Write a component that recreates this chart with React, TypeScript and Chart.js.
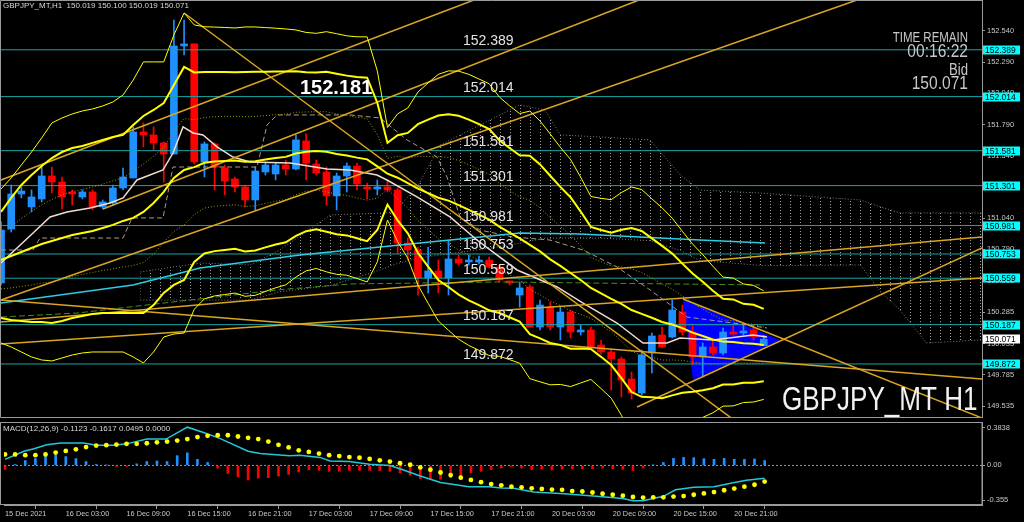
import React, { useEffect, useRef } from "react";
import { Chart, registerables } from "chart.js";

Chart.register(...registerables);

// ---------------- data ----------------
const SYMBOL_HEADER = "GBPJPY_MT,H1  150.019 150.100 150.019 150.071";
const MACD_HEADER = "MACD(12,26,9) -0.1123 -0.1617 0.0495 0.0000";
const BIG_LABEL = "GBPJPY_MT H1";
const HIGH_NOTE = "152.181";
const TIME_REMAIN = "00:16:22";
const BID = "150.071";

const TIME_LABELS = ["15 Dec 2021", "16 Dec 03:00", "16 Dec 09:00", "16 Dec 15:00", "16 Dec 21:00", "17 Dec 03:00", "17 Dec 09:00", "17 Dec 15:00", "17 Dec 21:00", "20 Dec 03:00", "20 Dec 09:00", "20 Dec 15:00", "20 Dec 21:00"];
const TIME_LABEL_BARS = [0, 6, 12, 18, 24, 30, 36, 42, 48, 54, 60, 66, 72];

const PRICE_TICKS = [149.535, 149.785, 150.035, 150.285, 150.535, 150.79, 151.04, 151.29, 151.54, 151.79, 152.04, 152.29, 152.54];
const MACD_TICKS = [0.3838, 0, -0.355];
const MACD_TICK_LABELS = ["0.3838", "0.00", "-0.355"];

const LEVELS = [152.389, 152.014, 151.581, 151.301, 150.981, 150.753, 150.559, 150.187, 149.872];
const LAST_PRICE = 150.071;

const OPEN = [150.521, 150.953, 151.234, 151.13, 151.194, 151.378, 151.33, 151.242, 151.21, 151.25, 151.13, 151.162, 151.282, 151.362, 151.731, 151.707, 151.643, 151.554, 152.42, 152.436, 151.49, 151.635, 151.442, 151.354, 151.29, 151.186, 151.41, 151.394, 151.466, 151.434, 151.659, 151.474, 151.41, 151.218, 151.378, 151.458, 151.29, 151.274, 151.29, 151.266, 150.841, 150.785, 150.561, 150.617, 150.561, 150.713, 150.689, 150.689, 150.705, 150.649, 150.529, 150.424, 150.489, 150.168, 150.328, 150.168, 150.288, 150.128, 150.144, 150.024, 149.968, 149.912, 149.751, 149.639, 149.96, 150.104, 150.088, 150.288, 150.128, 149.928, 150.008, 149.96, 150.128, 150.12, 150.144, 150.019];
const HIGH = [151.01, 151.306, 151.29, 151.266, 151.466, 151.45, 151.37, 151.266, 151.266, 151.266, 151.186, 151.306, 151.442, 151.771, 151.803, 151.771, 151.651, 152.628, 152.628, 152.436, 151.651, 151.643, 151.466, 151.37, 151.306, 151.45, 151.49, 151.482, 151.506, 151.707, 151.715, 151.506, 151.45, 151.402, 151.482, 151.482, 151.322, 151.346, 151.346, 151.282, 150.881, 150.809, 150.809, 150.705, 150.865, 150.745, 150.745, 150.737, 150.729, 150.665, 150.537, 150.529, 150.505, 150.384, 150.368, 150.328, 150.304, 150.184, 150.168, 150.064, 149.992, 149.928, 149.808, 149.984, 150.12, 150.168, 150.384, 150.344, 150.184, 150.04, 150.064, 150.16, 150.184, 150.184, 150.184, 150.1];
const LOW = [150.505, 150.929, 151.202, 151.09, 151.17, 151.242, 151.114, 151.146, 151.194, 151.106, 151.114, 151.146, 151.266, 151.362, 151.611, 151.586, 151.33, 151.554, 152.348, 151.474, 151.37, 151.266, 151.226, 151.25, 151.13, 151.106, 151.386, 151.346, 151.386, 151.426, 151.346, 151.386, 151.146, 151.106, 151.25, 151.266, 151.194, 151.226, 151.25, 150.761, 150.705, 150.424, 150.441, 150.441, 150.424, 150.665, 150.665, 150.673, 150.641, 150.529, 150.505, 150.328, 150.168, 150.144, 150.144, 150.064, 150.08, 150.104, 149.992, 149.952, 149.663, 149.607, 149.591, 149.623, 149.8, 150.0, 150.08, 150.104, 149.864, 149.768, 149.944, 149.944, 150.104, 150.104, 150.064, 150.019];
const CLOSE = [150.945, 151.234, 151.258, 151.21, 151.378, 151.33, 151.21, 151.234, 151.25, 151.13, 151.17, 151.282, 151.37, 151.731, 151.707, 151.643, 151.554, 152.42, 152.436, 151.49, 151.635, 151.45, 151.338, 151.29, 151.186, 151.418, 151.466, 151.466, 151.434, 151.667, 151.482, 151.402, 151.218, 151.378, 151.458, 151.314, 151.274, 151.29, 151.266, 150.841, 150.785, 150.561, 150.617, 150.561, 150.713, 150.681, 150.705, 150.705, 150.649, 150.545, 150.521, 150.481, 150.168, 150.344, 150.168, 150.288, 150.128, 150.144, 150.008, 149.968, 149.912, 149.743, 149.639, 149.944, 150.096, 150.008, 150.304, 150.128, 149.928, 150.008, 149.96, 150.128, 150.112, 150.136, 150.088, 150.071];

// Bollinger-style envelope (one value per bar)
const BAND_UP3 = [151.274, 151.362, 151.466, 151.57, 151.683, 151.803, 151.843, 151.875, 151.899, 151.915, 151.939, 151.971, 152.027, 152.147, 152.292, 152.292, 152.292, 152.508, 152.684, 152.588, 152.574, 152.571, 152.568, 152.564, 152.572, 152.572, 152.567, 152.562, 152.556, 152.548, 152.528, 152.521, 152.534, 152.518, 152.501, 152.493, 152.493, 152.22, 151.767, 151.876, 151.923, 152.051, 152.124, 152.192, 152.22, 152.218, 152.192, 152.155, 152.117, 152.011, 151.941, 151.878, 151.898, 151.819, 151.715, 151.608, 151.511, 151.368, 151.214, 151.199, 151.188, 151.245, 151.29, 151.269, 151.195, 151.123, 151.04, 150.934, 150.833, 150.748, 150.655, 150.568, 150.56, 150.513, 150.501, 150.458];
const BAND_UP2 = [151.09, 151.202, 151.306, 151.386, 151.458, 151.522, 151.57, 151.602, 151.619, 151.643, 151.667, 151.691, 151.707, 151.787, 151.859, 151.907, 151.963, 152.107, 152.252, 152.208, 152.211, 152.212, 152.211, 152.21, 152.212, 152.213, 152.214, 152.215, 152.215, 152.218, 152.21, 152.207, 152.213, 152.197, 152.182, 152.171, 152.166, 151.965, 151.643, 151.705, 151.723, 151.793, 151.83, 151.863, 151.873, 151.86, 151.83, 151.793, 151.754, 151.664, 151.602, 151.544, 151.541, 151.471, 151.38, 151.291, 151.208, 151.093, 150.97, 150.945, 150.923, 150.947, 150.961, 150.937, 150.878, 150.818, 150.756, 150.676, 150.597, 150.53, 150.459, 150.395, 150.389, 150.354, 150.346, 150.313];
const BAND_UP1 = [150.898, 150.97, 151.038, 151.094, 151.146, 151.19, 151.226, 151.254, 151.27, 151.29, 151.314, 151.339, 151.363, 151.415, 151.475, 151.535, 151.607, 151.735, 151.839, 151.829, 151.847, 151.853, 151.855, 151.856, 151.853, 151.855, 151.862, 151.869, 151.873, 151.888, 151.891, 151.893, 151.893, 151.875, 151.862, 151.848, 151.838, 151.71, 151.52, 151.535, 151.522, 151.535, 151.535, 151.533, 151.527, 151.502, 151.468, 151.43, 151.391, 151.318, 151.263, 151.211, 151.183, 151.122, 151.045, 150.975, 150.904, 150.819, 150.725, 150.691, 150.658, 150.65, 150.633, 150.605, 150.56, 150.513, 150.472, 150.417, 150.36, 150.313, 150.264, 150.223, 150.219, 150.196, 150.19, 150.168];
const BAND_MID = [150.705, 150.737, 150.769, 150.801, 150.833, 150.857, 150.881, 150.905, 150.921, 150.937, 150.961, 150.986, 151.018, 151.042, 151.09, 151.162, 151.25, 151.362, 151.426, 151.449, 151.484, 151.494, 151.498, 151.502, 151.493, 151.497, 151.51, 151.522, 151.531, 151.558, 151.573, 151.579, 151.572, 151.554, 151.542, 151.525, 151.511, 151.455, 151.396, 151.364, 151.321, 151.277, 151.241, 151.204, 151.181, 151.144, 151.106, 151.068, 151.028, 150.972, 150.924, 150.878, 150.826, 150.774, 150.71, 150.658, 150.601, 150.544, 150.481, 150.437, 150.393, 150.353, 150.304, 150.273, 150.242, 150.208, 150.188, 150.159, 150.123, 150.096, 150.068, 150.051, 150.048, 150.038, 150.034, 150.023];
const BAND_LO1 = [150.473, 150.481, 150.493, 150.505, 150.521, 150.529, 150.549, 150.573, 150.589, 150.605, 150.621, 150.633, 150.649, 150.661, 150.685, 150.753, 150.846, 150.934, 150.986, 151.069, 151.121, 151.135, 151.141, 151.148, 151.133, 151.139, 151.158, 151.175, 151.189, 151.228, 151.255, 151.265, 151.251, 151.233, 151.222, 151.202, 151.184, 151.2, 151.272, 151.193, 151.12, 151.019, 150.947, 150.875, 150.835, 150.786, 150.744, 150.706, 150.665, 150.626, 150.585, 150.545, 150.469, 150.426, 150.375, 150.341, 150.298, 150.269, 150.237, 150.183, 150.128, 150.056, 149.975, 149.941, 149.924, 149.903, 149.904, 149.901, 149.886, 149.879, 149.872, 149.879, 149.877, 149.88, 149.878, 149.878];
const BAND_LO2 = [150.24, 150.224, 150.216, 150.208, 150.208, 150.2, 150.216, 150.24, 150.256, 150.272, 150.28, 150.28, 150.28, 150.28, 150.28, 150.344, 150.441, 150.505, 150.545, 150.69, 150.757, 150.776, 150.785, 150.794, 150.774, 150.781, 150.806, 150.829, 150.847, 150.898, 150.936, 150.951, 150.931, 150.911, 150.902, 150.879, 150.856, 150.945, 151.149, 151.023, 150.919, 150.761, 150.652, 150.545, 150.489, 150.428, 150.382, 150.343, 150.302, 150.28, 150.246, 150.212, 150.111, 150.077, 150.04, 150.025, 149.994, 149.995, 149.992, 149.929, 149.863, 149.759, 149.647, 149.609, 149.606, 149.598, 149.62, 149.642, 149.649, 149.662, 149.677, 149.707, 149.707, 149.722, 149.722, 149.733];
const BAND_LO3 = [150.04, 150.008, 149.968, 149.928, 149.904, 149.896, 149.92, 149.944, 149.96, 149.968, 149.968, 149.968, 149.968, 149.928, 149.88, 149.968, 150.088, 150.112, 150.12, 150.31, 150.394, 150.417, 150.428, 150.44, 150.414, 150.422, 150.453, 150.482, 150.506, 150.568, 150.618, 150.637, 150.61, 150.59, 150.583, 150.557, 150.529, 150.69, 151.025, 150.852, 150.719, 150.503, 150.358, 150.216, 150.142, 150.07, 150.02, 149.981, 149.939, 149.933, 149.907, 149.878, 149.754, 149.729, 149.705, 149.708, 149.691, 149.72, 149.748, 149.675, 149.598, 149.461, 149.318, 149.277, 149.289, 149.293, 149.336, 149.384, 149.413, 149.444, 149.481, 149.534, 149.536, 149.563, 149.567, 149.588];

// moving averages / ichimoku-type lines, [bar, price]
const WHITE_MA = [[0, 150.681], [3.15, 150.921], [4.82, 151.05], [6.49, 151.09], [8.75, 151.122], [10.72, 151.162], [12.0, 151.202], [13.37, 151.346], [15.93, 151.426], [16.91, 151.562], [17.9, 151.771], [18.88, 151.723], [19.86, 151.707], [21.24, 151.611], [22.81, 151.53], [24.48, 151.49], [28.42, 151.482], [32.06, 151.434], [34.32, 151.426], [36.97, 151.386], [37.95, 151.346], [40.9, 151.21], [44.15, 151.05], [46.8, 150.865], [50.74, 150.625], [54.67, 150.489], [57.23, 150.36], [60.57, 150.2], [63.13, 150.04], [65.49, 150.04], [66.76, 150.08], [70.01, 150.064], [73.94, 150.104], [75.32, 150.088]];
const CYAN_MA = [[0, 150.36], [12.98, 150.505], [19.57, 150.641], [29.4, 150.745], [39.23, 150.825], [51.03, 150.921], [56.93, 150.913], [68.73, 150.865], [75.12, 150.841]];
const BASE_LINE = [[0, 150.785], [3.15, 150.785], [3.83, 150.881], [12.0, 150.881], [12.88, 151.042], [15.93, 151.042], [16.91, 151.45], [25.17, 151.45], [26.16, 151.787], [27.14, 151.867], [34.32, 151.867], [37.27, 151.843], [39.92, 151.667], [42.87, 151.53], [43.85, 151.37], [45.13, 151.05], [47.1, 150.945], [50.34, 150.889], [53.98, 150.865], [57.23, 150.785], [60.57, 150.649], [63.82, 150.465], [67.45, 150.248], [71.98, 150.2], [75.32, 150.16]];
const LAG_LINE = [[0, 150.248], [7.5, 150.28], [27.14, 150.465], [34.32, 150.513], [49.07, 150.529], [74.63, 150.505]];
const CLOUD_X = [13.7, 19.6, 24.5, 27.4, 32.4, 37.3, 38.7, 41.0, 43.2, 48.1, 51.0, 53.5, 55.0, 59.0, 63.8, 66.8, 68.7, 75.0, 84.5, 86.5, 88.4, 91.0, 96.5];
const CLOUD_TOP = [150.609, 150.681, 150.665, 150.785, 151.066, 151.08, 151.09, 151.3, 151.627, 151.827, 151.947, 151.907, 151.707, 151.69, 151.667, 151.386, 151.266, 151.24, 151.186, 151.13, 151.082, 151.082, 151.082];
const CLOUD_BOTTOM = [150.384, 150.384, 150.384, 150.45, 150.5, 150.625, 150.67, 150.72, 150.745, 150.8, 150.84, 150.88, 150.88, 150.88, 150.86, 150.78, 150.7, 150.66, 150.665, 150.45, 150.304, 150.04, 150.064];

// straight trend lines: [bar1, price1, bar2, price2]
const TRENDLINES = [
  [0, 151.346, 46.5, 152.788],
  [10.03, 151.114, 62.73, 152.788],
  [0, 150.384, 84.17, 152.788],
  [0, 150.208, 96.46, 150.889],
  [0, 150.032, 96.46, 150.561],
  [0, 150.384, 96.46, 149.751],
  [18.0, 152.684, 80, 148.945],
  [67.06, 150.392, 96.46, 149.439],
  [62.54, 149.527, 96.46, 150.801],
];
const TRIANGLE = [[67.06, 150.392], [68.04, 149.743], [76.6, 150.064], [67.06, 150.392]];

const MACD_HIST = [-0.04, 0.01, 0.05, 0.07, 0.105, 0.105, 0.09, 0.07, 0.04, 0.01, 0.003, -0.01, -0.01, 0.016, 0.04, 0.046, 0.04, 0.1, 0.128, 0.062, 0.03, -0.026, -0.082, -0.115, -0.148, -0.13, -0.125, -0.108, -0.092, -0.066, -0.043, -0.05, -0.06, -0.06, -0.05, -0.05, -0.05, -0.052, -0.06, -0.075, -0.1, -0.135, -0.14, -0.14, -0.125, -0.108, -0.075, -0.06, -0.043, -0.026, -0.01, -0.026, -0.043, -0.036, -0.046, -0.036, -0.036, -0.033, -0.033, -0.026, -0.033, -0.04, -0.052, -0.026, 0.006, 0.03, 0.072, 0.082, 0.079, 0.069, 0.062, 0.072, 0.062, 0.062, 0.066, 0.0495];
const MACD_SIGNAL = [0.112, 0.112, 0.105, 0.105, 0.112, 0.131, 0.148, 0.164, 0.187, 0.203, 0.207, 0.213, 0.22, 0.22, 0.226, 0.236, 0.243, 0.253, 0.269, 0.289, 0.302, 0.308, 0.308, 0.295, 0.282, 0.269, 0.243, 0.21, 0.184, 0.154, 0.138, 0.121, 0.105, 0.095, 0.085, 0.079, 0.066, 0.052, 0.039, 0.023, 0.007, -0.02, -0.043, -0.072, -0.098, -0.125, -0.148, -0.171, -0.19, -0.203, -0.217, -0.223, -0.233, -0.24, -0.246, -0.249, -0.262, -0.266, -0.276, -0.289, -0.299, -0.308, -0.322, -0.328, -0.325, -0.325, -0.318, -0.312, -0.299, -0.285, -0.272, -0.253, -0.236, -0.217, -0.197, -0.165];
const MACD_MAIN = [[0, 0.062], [1.87, 0.145], [2.85, 0.17], [4.13, 0.21], [5.5, 0.229], [7.77, 0.229], [9.05, 0.207], [10.7, 0.207], [12, 0.22], [14, 0.269], [15.9, 0.269], [18, 0.39], [19.6, 0.335], [21.2, 0.276], [24, 0.145], [25.2, 0.121], [28.1, 0.098], [29.1, 0.105], [31.1, 0.082], [32.1, 0.046], [34, 0.039], [36, 0.013], [38, 0.0], [39.2, -0.042], [41, -0.108], [43, -0.174], [45.8, -0.217], [47.8, -0.217], [49, -0.23], [50.2, -0.233], [52.2, -0.272], [55.2, -0.289], [58.4, -0.315], [61, -0.338], [62, -0.361], [63, -0.361], [65, -0.315], [66.2, -0.249], [68, -0.223], [70, -0.217], [72, -0.174], [73.2, -0.151], [75, -0.131]];

// ---------------- view ----------------
const X_MIN = -0.1;
const X_MAX = 96.46;
const PRICE_MIN = 149.439;
const PRICE_MAX = 152.788;
const MACD_MIN = -0.4035;
const MACD_MAX = 0.4429;

const UP = "#1e90ff";
const DOWN = "#ff0000";
const YELLOW = "#ffff00";
const GOLD = "#daa520";
const LEVEL_COLOR = "#16a6a6";
const FRAME = "#9a9a9a";
const TEXT = "#c8c8c8";
const SANS = "'Liberation Sans', Arial, sans-serif";

const pts = (arr) => arr.map(([x, y]) => ({ x, y }));
const perBar = (arr) => arr.map((y, i) => ({ x: i, y }));

function line(data, color, width, order, dash?) {
  return {
    type: "line",
    data,
    borderColor: color,
    borderWidth: width,
    borderDash: dash || [],
    pointRadius: 0,
    fill: false,
    tension: 0,
    order,
  };
}

function makeHatch() {
  const c = document.createElement("canvas");
  c.width = 10;
  c.height = 3;
  const g = c.getContext("2d");
  g.fillStyle = "#a0a0a0";
  g.fillRect(0, 0, 1, 1);
  return g.createPattern(c, "repeat");
}

// narrow text (condensed rendering of a regular face)
function narrowText(ctx, text, x, y, size, align, sx) {
  ctx.save();
  ctx.font = `${size}px ${SANS}`;
  ctx.translate(x, y);
  ctx.scale(sx, 1);
  ctx.textAlign = align;
  ctx.fillText(text, 0, 0);
  ctx.restore();
}

const mainOverlay = {
  id: "mainOverlay",
  afterDatasetsDraw(chart) {
    const { ctx, chartArea: a, scales } = chart;
    const ys = scales.y;
    ctx.save();
    // frame
    ctx.strokeStyle = FRAME;
    ctx.lineWidth = 1;
    ctx.beginPath();
    ctx.moveTo(0.5, a.bottom - 0.5);
    ctx.lineTo(0.5, 0.5);
    ctx.lineTo(a.right, 0.5);
    ctx.moveTo(0.5, a.bottom - 0.5);
    ctx.lineTo(a.right, a.bottom - 0.5);
    ctx.stroke();

    // level labels
    ctx.font = `14px ${SANS}`;
    ctx.fillStyle = "#e4e4e4";
    ctx.textAlign = "left";
    ctx.textBaseline = "middle";
    LEVELS.forEach((l) => ctx.fillText(l.toFixed(3), 463, ys.getPixelForValue(l) - 8.5));

    // header
    ctx.font = `8px ${SANS}`;
    ctx.fillStyle = "#d8d8d8";
    ctx.fillText(SYMBOL_HEADER, 3, 6);

    // recent high note
    ctx.font = `bold 20px ${SANS}`;
    ctx.fillStyle = "#ffffff";
    ctx.fillText(HIGH_NOTE, 300, 88);

    // time remain block
    ctx.fillStyle = TEXT;
    narrowText(ctx, "TIME REMAIN", 968, 38, 14, "right", 0.82);
    narrowText(ctx, TIME_REMAIN, 968, 52, 19, "right", 0.82);
    narrowText(ctx, "Bid", 968, 71, 16, "right", 0.82);
    narrowText(ctx, BID, 968, 84, 19, "right", 0.82);

    // big symbol label
    ctx.fillStyle = "#f2f2f2";
    narrowText(ctx, BIG_LABEL, 782, 401, 33, "left", 0.79);

    // price boxes on the axis
    ctx.font = `8.5px ${SANS}`;
    ctx.textAlign = "left";
    ctx.textBaseline = "middle";
    const box = (v, bg) => {
      const y = Math.round(ys.getPixelForValue(v));
      ctx.fillStyle = bg;
      ctx.fillRect(a.right + 1, y - 4.5, 37, 9);
      ctx.fillStyle = "#000";
      ctx.fillText(v.toFixed(3), a.right + 3, y + 0.5);
    };
    LEVELS.forEach((l) => box(l, "#00ffff"));
    box(LAST_PRICE, "#ffffff");
    ctx.restore();
  },
};

const macdOverlay = {
  id: "macdOverlay",
  afterDatasetsDraw(chart) {
    const { ctx, chartArea: a } = chart;
    ctx.save();
    ctx.strokeStyle = FRAME;
    ctx.lineWidth = 1;
    ctx.strokeRect(0.5, a.top + 0.5, a.right - 0.5, a.bottom - a.top - 1);
    ctx.font = `8px ${SANS}`;
    ctx.fillStyle = "#d8d8d8";
    ctx.textAlign = "left";
    ctx.textBaseline = "middle";
    ctx.fillText(MACD_HEADER, 3, a.top + 7);
    ctx.restore();
  },
};

const fitY = (s) => {
  s.width = 42;
  s.paddingTop = 0;
  s.paddingBottom = 0;
};

function mainConfig(hatch) {
  const idx = OPEN.map((_, i) => i);
  const colors = idx.map((i) => (CLOSE[i] >= OPEN[i] ? UP : DOWN));
  const datasets = [
    {
      type: "line",
      data: CLOUD_X.map((x, k) => ({ x, y: CLOUD_TOP[k] })),
      borderColor: "#7a7a7a",
      borderWidth: 1,
      borderDash: [1, 2],
      pointRadius: 0,
      fill: "+1",
      backgroundColor: hatch,
      order: 300,
    },
    {
      type: "line",
      data: CLOUD_X.map((x, k) => ({ x, y: CLOUD_BOTTOM[k] })),
      borderColor: "#7a7a7a",
      borderWidth: 1,
      borderDash: [1, 2],
      pointRadius: 0,
      fill: false,
      order: 299,
    },
    {
      type: "line",
      data: pts(TRIANGLE),
      borderWidth: 0,
      borderColor: "rgba(0,0,0,0)",
      backgroundColor: "#0000ff",
      fill: "shape",
      pointRadius: 0,
      order: 250,
    },
    {
      type: "bar",
      data: idx.map((i) => ({ x: i, y: [LOW[i], HIGH[i]] })),
      backgroundColor: colors,
      barThickness: 1,
      grouped: false,
      order: 200,
    },
    {
      type: "bar",
      data: idx.map((i) => ({ x: i, y: [OPEN[i], CLOSE[i]] })),
      backgroundColor: colors,
      barThickness: 7,
      minBarLength: 2,
      grouped: false,
      order: 190,
    },
    ...LEVELS.map((l) => line([{ x: X_MIN, y: l }, { x: X_MAX, y: l }], LEVEL_COLOR, 1, 150)),
    line(pts(LAG_LINE), "#4a8c1c", 1, 140, [6, 3]),
    line(pts(BASE_LINE), "#a89a8a", 1, 130, [5, 3]),
    line(perBar(BAND_UP1), "#9c9c00", 1, 120, [1, 2]),
    line(perBar(BAND_LO1), "#9c9c00", 1, 120, [1, 2]),
    line(pts(CYAN_MA), "#2ccce4", 1.5, 110),
    line(pts(WHITE_MA), "#f0dcd2", 1.5, 100),
    ...TRENDLINES.map(([x1, y1, x2, y2]) => line([{ x: x1, y: y1 }, { x: x2, y: y2 }], GOLD, 1.5, 90)),
    line(perBar(BAND_UP3), YELLOW, 1, 80),
    line(perBar(BAND_LO3), YELLOW, 1, 80),
    line(perBar(BAND_UP2), YELLOW, 2, 70),
    line(perBar(BAND_MID), YELLOW, 2, 70),
    line(perBar(BAND_LO2), YELLOW, 2, 70),
  ];
  return {
    type: "bar",
    data: { datasets },
    plugins: [mainOverlay],
    options: {
      animation: false,
      responsive: false,
      devicePixelRatio: 1,
      events: [],
      layout: { padding: 0 },
      plugins: { legend: { display: false }, tooltip: { enabled: false } },
      scales: {
        x: { type: "linear", min: X_MIN, max: X_MAX, display: false, offset: false },
        y: {
          type: "linear",
          position: "right",
          min: PRICE_MIN,
          max: PRICE_MAX,
          afterBuildTicks: (s) => {
            s.ticks = PRICE_TICKS.map((v) => ({ value: v }));
          },
          afterFit: fitY,
          ticks: {
            autoSkip: false,
            callback: (v) => Number(v).toFixed(3),
            color: TEXT,
            font: { family: SANS, size: 7.5 },
            padding: 2,
          },
          grid: { display: true, drawOnChartArea: false, drawTicks: true, tickLength: 3, color: FRAME },
          border: { display: true, color: FRAME, width: 1 },
        },
      },
    },
  };
}

function macdConfig() {
  const datasets = [
    line([{ x: X_MIN, y: 0 }, { x: X_MAX, y: 0 }], "#9a9a9a", 1, 50, [2, 2]),
    {
      type: "bar",
      data: perBar(MACD_HIST),
      backgroundColor: MACD_HIST.map((v) => (v >= 0 ? UP : DOWN)),
      barThickness: 2,
      grouped: false,
      order: 40,
    },
    line(pts(MACD_MAIN), "#20c8d8", 1.5, 30),
    {
      type: "line",
      data: perBar(MACD_SIGNAL),
      showLine: false,
      pointRadius: 2.4,
      pointBackgroundColor: YELLOW,
      pointBorderWidth: 0,
      borderColor: YELLOW,
      order: 20,
    },
  ];
  return {
    type: "bar",
    data: { datasets },
    plugins: [macdOverlay],
    options: {
      animation: false,
      responsive: false,
      devicePixelRatio: 1,
      events: [],
      layout: { padding: { top: 1, left: 0, right: 0, bottom: 0 } },
      plugins: { legend: { display: false }, tooltip: { enabled: false } },
      scales: {
        x: {
          type: "linear",
          min: X_MIN,
          max: X_MAX,
          offset: false,
          position: "bottom",
          afterBuildTicks: (s) => {
            s.ticks = TIME_LABEL_BARS.map((v) => ({ value: v }));
          },
          afterFit: (s) => {
            s.height = 17;
            s.paddingLeft = 0;
            s.paddingRight = 0;
          },
          ticks: {
            autoSkip: false,
            maxRotation: 0,
            minRotation: 0,
            align: "start",
            callback: (v, i) => TIME_LABELS[i],
            color: TEXT,
            font: { family: SANS, size: 7.3 },
            padding: 1,
          },
          grid: { display: true, drawOnChartArea: false, drawTicks: true, tickLength: 4, color: FRAME },
          border: { display: true, color: FRAME },
        },
        y: {
          type: "linear",
          position: "right",
          min: MACD_MIN,
          max: MACD_MAX,
          afterBuildTicks: (s) => {
            s.ticks = MACD_TICKS.map((v) => ({ value: v }));
          },
          afterFit: fitY,
          ticks: {
            autoSkip: false,
            callback: (v, i) => MACD_TICK_LABELS[i],
            color: TEXT,
            font: { family: SANS, size: 7.5 },
            padding: 2,
          },
          grid: { display: true, drawOnChartArea: false, drawTicks: true, tickLength: 3, color: FRAME },
          border: { display: true, color: FRAME },
        },
      },
    },
  };
}

export default function App() {
  const mainRef = useRef(null);
  const macdRef = useRef(null);
  useEffect(() => {
    const hatch = makeHatch();
    const main = new Chart(mainRef.current, mainConfig(hatch));
    const macd = new Chart(macdRef.current, macdConfig());
    return () => {
      main.destroy();
      macd.destroy();
    };
  }, []);
  return (
    <div style={{ position: "fixed", left: 0, top: 0, width: 1024, height: 522, background: "#000", overflow: "hidden" }}>
      <canvas ref={mainRef} width={1024} height={418} style={{ position: "absolute", left: 0, top: 0, width: 1024, height: 418 }} />
      <canvas ref={macdRef} width={1024} height={104} style={{ position: "absolute", left: 0, top: 418, width: 1024, height: 104 }} />
    </div>
  );
}
